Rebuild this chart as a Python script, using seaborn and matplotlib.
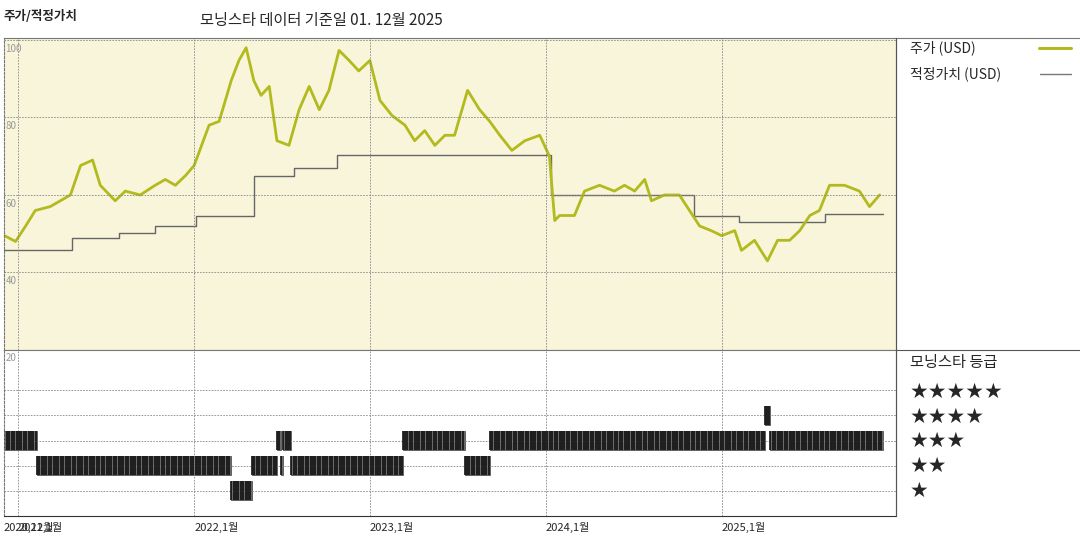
import pandas as pd
import seaborn as sns
import matplotlib.pyplot as plt
from matplotlib.patches import Rectangle

sns.set_style("white")
plt.rcParams['font.family'] = ['Noto Sans CJK KR', 'DejaVu Sans']

price_dates = ["2020-12-03", "2020-12-26", "2021-01-16", "2021-02-05", "2021-03-08", "2021-03-29",
               "2021-04-19", "2021-05-10", "2021-06-04", "2021-06-20", "2021-07-21", "2021-08-11",
               "2021-09-11", "2021-10-12", "2021-11-02", "2021-11-23", "2021-12-14", "2022-01-01",
               "2022-02-01", "2022-02-22", "2022-03-19", "2022-04-04", "2022-04-19", "2022-05-05",
               "2022-05-20", "2022-06-06", "2022-06-22", "2022-07-17", "2022-08-07", "2022-08-28",
               "2022-09-18", "2022-10-08", "2022-10-29", "2022-11-19", "2022-12-09", "2023-01-01",
               "2023-01-22", "2023-02-16", "2023-03-15", "2023-04-04", "2023-04-25", "2023-05-16",
               "2023-06-06", "2023-06-26", "2023-07-23", "2023-08-17", "2023-09-07", "2023-09-28",
               "2023-10-23", "2023-11-19", "2023-12-20", "2024-01-09", "2024-01-20", "2024-01-30",
               "2024-03-01", "2024-03-22", "2024-04-22", "2024-05-23", "2024-06-13", "2024-07-04",
               "2024-07-25", "2024-08-08", "2024-09-04", "2024-10-05", "2024-10-26", "2024-11-16",
               "2024-12-10", "2025-01-01", "2025-01-28", "2025-02-11", "2025-03-10", "2025-04-06",
               "2025-04-27", "2025-05-22", "2025-06-12", "2025-07-03", "2025-07-23", "2025-08-13",
               "2025-09-13", "2025-10-14", "2025-11-04", "2025-11-25"]
price = [49.5, 48, 52, 56, 57, 58.5, 60, 67.6, 69, 62.5, 58.5, 61, 60, 62.5, 64, 62.5, 65, 67.6,
         78, 79, 89.5, 94.7, 98, 89.5, 85.7, 88, 74, 72.8, 82, 88, 82, 87, 97.3, 94.7, 92, 94.7,
         84.4, 80.5, 78, 74, 76.6, 72.8, 75.4, 75.4, 87, 82, 79, 75.4, 71.5, 74, 75.4, 70, 53.4, 54.7,
         54.7, 61, 62.5, 61, 62.5, 61, 64, 58.5, 60, 60, 56, 52, 50.8, 49.5, 50.8, 45.7, 48.3, 43,
         48.3, 48.3, 50.8, 54.7, 56, 62.5, 62.5, 61, 57, 60]

fair_dates = ["2020-12-03", "2021-04-22", "2021-07-28", "2021-10-12", "2022-01-05", "2022-05-05",
              "2022-07-27", "2022-10-25", "2024-01-13", "2024-11-05", "2025-02-06", "2025-08-03",
              "2025-12-01"]
fair = [45.7, 49, 50.3, 52, 54.7, 65, 67, 70.2, 60, 54.7, 53, 55.2, 55.2]

# rating segments: start, end, stars
rating_start = ["2020-12-03", "2021-02-08", "2022-03-19", "2022-05-01", "2022-06-22", "2022-07-01",
                "2022-07-05", "2022-07-22", "2023-03-10", "2023-07-17", "2023-09-07", "2025-03-31",
                "2025-04-12"]
rating_end = ["2021-02-08", "2022-03-19", "2022-05-01", "2022-06-22", "2022-07-01", "2022-07-05",
              "2022-07-22", "2023-03-10", "2023-07-17", "2023-09-07", "2025-03-31", "2025-04-12",
              "2025-12-01"]
rating_stars = [3, 2, 1, 2, 3, 2, 3, 2, 3, 2, 3, 4, 3]

years = ["2021-01-01", "2022-01-01", "2023-01-01", "2024-01-01", "2025-01-01"]
year_labels = ["2021,1월", "2022,1월", "2023,1월", "2024,1월", "2025,1월"]

df_price = pd.DataFrame({"date": pd.to_datetime(price_dates), "v": price})
df_fair = pd.DataFrame({"date": pd.to_datetime(fair_dates), "v": fair})

fig = plt.figure(figsize=(10.8, 5.4), dpi=100)
W, H = 1080, 540
ax = fig.add_axes([4 / W, 1 - 350 / H, 892 / W, 312 / H])
ax2 = fig.add_axes([4 / W, 1 - 516 / H, 892 / W, 166 / H], sharex=ax)

xmin, xmax = pd.Timestamp("2020-12-02"), pd.Timestamp("2025-12-29")
grid = dict(color="#888888", linestyle=(0, (2, 1.5)), linewidth=0.6)

ax.set_facecolor("#f8f5da")
sns.lineplot(data=df_fair, x="date", y="v", ax=ax, color="#666666", linewidth=1,
             drawstyle="steps-post")
sns.lineplot(data=df_price, x="date", y="v", ax=ax, color="#b3ba1e", linewidth=2)
ax.set_xlim(xmin, xmax)
ax.set_ylim(20, 100.5)
for v in [40, 60, 80, 100]:
    ax.axhline(v, **grid)
    ax.text(xmin + pd.Timedelta(days=3), v - 1, str(v), fontsize=7, color="#999999",
            va="top", ha="left")
for d in years:
    ax.axvline(pd.Timestamp(d), **grid)
    ax2.axvline(pd.Timestamp(d), **grid)

# ratings
ax2.set_ylim(0.0, 6.6)
for r in [1, 2, 3, 4, 5]:
    ax2.axhline(r, **grid)
ax2.text(xmin + pd.Timedelta(days=3), 6.5, "20", fontsize=7, color="#999999", va="top")
for s, e, r in zip(rating_start, rating_end, rating_stars):
    ax2.add_patch(Rectangle((pd.Timestamp(s), r - 0.38), pd.Timestamp(e) - pd.Timestamp(s), 0.76,
                            facecolor="#6a6a6a", edgecolor="#555555", linewidth=0.6))
    wk = pd.date_range(s, e, freq="5D")
    ax2.vlines(wk, r - 0.38, r + 0.38, color="#111111", linewidth=1.2)

for a in (ax, ax2):
    a.set_xlabel("")
    a.set_ylabel("")
    a.set_yticks([])
    a.tick_params(axis="x", length=0, labelbottom=False)
    for sp in a.spines.values():
        sp.set_color("#777777")
        sp.set_linewidth(0.8)
    a.spines["left"].set_linestyle((0, (2, 1.5)))
ax2.spines["bottom"].set_color("#333333")

ax2.text(xmin, -0.25, "2020,12월", fontsize=8, va="top", ha="left")
for d, lab in zip(years, year_labels):
    ax2.text(pd.Timestamp(d), -0.25, lab, fontsize=8, va="top", ha="left")

# right panel
fig.add_artist(plt.Line2D([896 / W, 1], [1 - 38 / H] * 2, color="#777777", lw=0.8))
fig.add_artist(plt.Line2D([896 / W, 1], [1 - 350 / H] * 2, color="#555555", lw=0.8))
fig.add_artist(plt.Line2D([896 / W, 896 / W], [1 - 516 / H, 1 - 38 / H], color="#555555", lw=0.8))
fig.text(910 / W, 1 - 48 / H, "주가 (USD)", fontsize=10, va="center")
fig.add_artist(plt.Line2D([1039 / W, 1071 / W], [1 - 48 / H] * 2, color="#b3ba1e", lw=2.2))
fig.text(910 / W, 1 - 74 / H, "적정가치 (USD)", fontsize=10, va="center")
fig.add_artist(plt.Line2D([1040 / W, 1071 / W], [1 - 74 / H] * 2, color="#777777", lw=1))
fig.text(910 / W, 1 - 362 / H, "모닝스타 등급", fontsize=11, va="center")
for i, n in enumerate([5, 4, 3, 2, 1]):
    fig.text(910 / W, 1 - (392 + 24.7 * i) / H, "★" * n, fontsize=15, va="center",
             family=["DejaVu Sans"])

fig.text(4 / W, 1 - 16 / H, "주가/적정가치", fontsize=9, fontweight="bold", va="center")
fig.text(200 / W, 1 - 20 / H, "모닝스타 데이터 기준일 01. 12월 2025", fontsize=11, va="center")

fig.savefig("out.png", dpi=100)
